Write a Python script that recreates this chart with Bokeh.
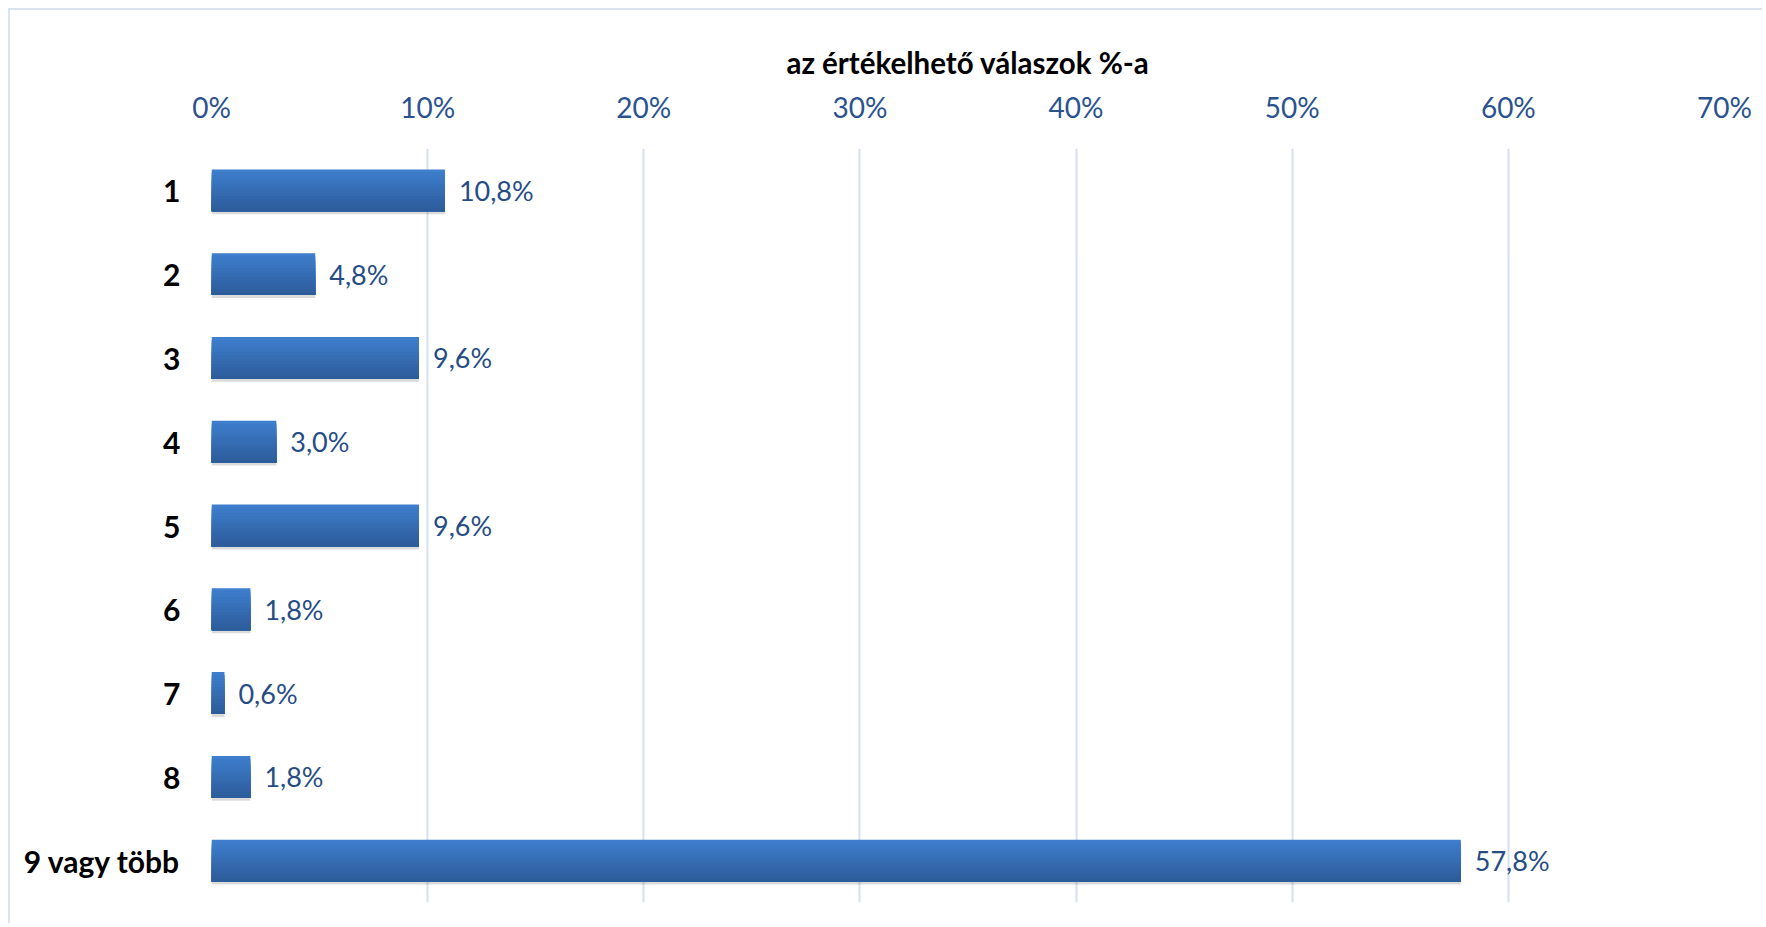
from bokeh.plotting import figure
from bokeh.models import ColumnDataSource, FactorRange, Range1d, LabelSet, FixedTicker, PrintfTickFormatter
from bokeh.transform import dodge
from bokeh.core.properties import value
from bokeh.embed import file_html
from bokeh.resources import INLINE

categories = ["1", "2", "3", "4", "5", "6", "7", "8", "9 vagy több"]
values = [10.8, 4.8, 9.6, 3.0, 9.6, 1.8, 0.6, 1.8, 57.8]
tick_values = [0, 10, 20, 30, 40, 50, 60, 70]
axis_title = "az értékelhető válaszok %-a"

labels = [f"{v:.1f}".replace(".", ",") + "%" for v in values]
src = ColumnDataSource(dict(cat=categories, val=values, lab=labels))

FONT = "Lato"
TICK_COLOR = "#2a5290"
LABEL_COLOR = "#264c86"

p = figure(
    width=1754, height=915,
    y_range=FactorRange(factors=list(reversed(categories)), range_padding=0),
    x_range=Range1d(0, 70),
    x_axis_location="above",
    output_backend="svg", toolbar_location=None,
    min_border_left=201, min_border_right=40, min_border_top=138, min_border_bottom=23,
)
p.styles = {"margin-left": "8px", "margin-top": "8px",
            "border-top": "2px solid #dae3f1", "border-left": "2px solid #dae3f1"}
p.outline_line_color = None
p.background_fill_color = "white"
p.border_fill_color = "white"

# shadow
p.hbar(y=dodge("cat", -0.035, range=p.y_range), left=0, right="val", height=0.5,
       source=src, fill_color="#000000", fill_alpha=0.14, line_color=None)
# gradient bars: stacked layers, each from its top edge down to the bar bottom
N = 14
top_c = (0x3e, 0x7e, 0xcd)
bot_c = (0x2d, 0x5c, 0x9b)
h = 0.5 / N
for i in range(N):
    t = i / (N - 1)
    c = tuple(int(round(top_c[k] * (1 - t) + bot_c[k] * t)) for k in range(3))
    top = 0.25 - h * i
    hh = top + 0.25
    p.hbar(y=dodge("cat", top - hh / 2, range=p.y_range), left=0, right="val", height=hh,
           source=src, fill_color="#%02x%02x%02x" % c, line_color=None)

p.add_layout(LabelSet(x="val", y="cat", text="lab", source=src, x_offset=14,
                      text_baseline="middle", text_align="left",
                      text_font=value(FONT), text_font_size="27px", text_color=LABEL_COLOR))

xa = p.xaxis[0]
xa.ticker = FixedTicker(ticks=tick_values)
xa.formatter = PrintfTickFormatter(format="%d%%")
xa.axis_line_color = None
xa.major_tick_line_color = None
xa.minor_tick_line_color = None
xa.major_label_text_font = FONT
xa.major_label_text_font_size = "28px"
xa.major_label_text_color = TICK_COLOR
xa.major_label_standoff = 19
xa.axis_label = axis_title
xa.axis_label_text_font = FONT
xa.axis_label_text_font_style = "bold"
xa.axis_label_text_font_size = "29.5px"
xa.axis_label_text_color = "black"
xa.axis_label_standoff = 7

ya = p.yaxis[0]
ya.axis_line_color = None
ya.major_tick_line_color = None
ya.minor_tick_line_color = None
ya.major_label_text_font = FONT
ya.major_label_text_font_style = "bold"
ya.major_label_text_font_size = "30px"
ya.major_label_text_color = "black"
ya.major_label_standoff = 25

p.xgrid.ticker = FixedTicker(ticks=tick_values)
p.xgrid.grid_line_color = "#d6e1f0"
p.xgrid.grid_line_width = 2
p.ygrid.grid_line_color = None

open("out.html", "w").write(file_html(p, INLINE))
